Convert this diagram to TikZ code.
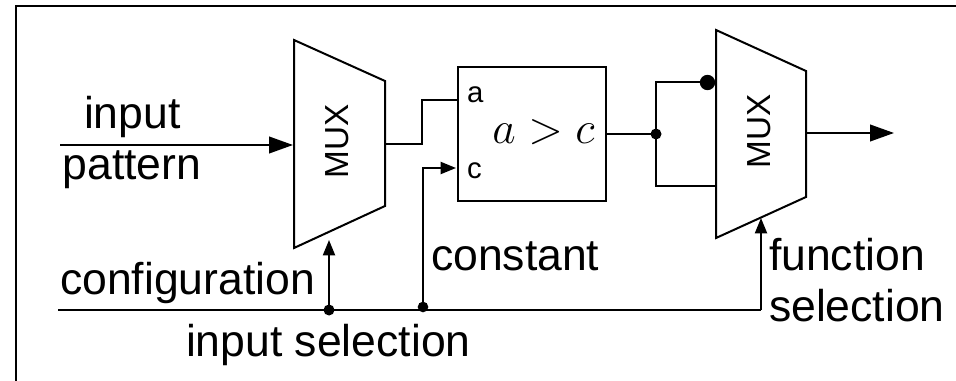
\documentclass[tikz,border=0pt]{standalone}
\usepackage{amsmath,amssymb}
\usepackage{fontspec}
\setmainfont{Liberation Sans}
\usepackage{tikz}
\usetikzlibrary{positioning,arrows.meta}

\tikzset{
  wire/.style={line width=1.5pt},
  sig/.style={anchor=base west, inner sep=0pt, font=\fontsize{33.4}{36}\selectfont},
  port/.style={anchor=base west, inner sep=0pt, font=\fontsize{22}{24}\selectfont},
  muxlabel/.style={rotate=90, inner sep=0pt, font=\fontsize{25}{27}\selectfont},
  junction/.style={circle, fill=black, inner sep=0pt, minimum size=#1},
  bigtip/.style={-{Triangle[length=18pt,width=12.5pt]}},
  smalltip/.style={-{Triangle[length=11.5pt,width=9pt]}},
}

\begin{document}
\begin{tikzpicture}[x=0.75pt, y=-0.75pt, wire]
  \useasboundingbox (0,0) rectangle (956,381);

  % frame, only two sides
  \coordinate (FrameB) at (15.5,381);
  \coordinate (FrameC) at (15.5,6.5);
  \coordinate (FrameR) at (956,6.5);
  \draw (FrameB) -- (FrameC) -- (FrameR);

  % muxes and comparator
  \draw (294,40) coordinate (M1a) -- (385,81) -- (385,206) -- (294,248) -- cycle;
  \draw (716,30) coordinate (M2a) -- (806,71) -- (806,197) -- (716,238) -- cycle;
  \node[muxlabel] (Mux1) at (337.5,141) {MUX};
  \node[muxlabel] (Mux2) at (759,131) {MUX};
  \node[draw, wire, minimum width=111pt, minimum height=100.5pt, inner sep=0pt] (Cmp) at (532,134) {};
  \node[anchor=base, inner sep=0pt] (CmpText) at (543.5,144) {\scalebox{1.37}{\fontsize{24.88}{28}\selectfont $a>c$}};
  \node[port] (PortA) at (466,103) {a};
  \node[port] (PortC) at (466,179) {c};

  % signal ends and junctions
  \coordinate (InL) at (60,145);
  \coordinate (InR) at (293,145);
  \coordinate (Out1) at (385,144);
  \coordinate (Bend) at (422,122);
  \coordinate (A1) at (458,100);
  \coordinate (C1) at (456,168);
  \coordinate (BusL) at (58,310);
  \coordinate (BusR) at (761,310);
  \coordinate (Sel2) at (761,218);
  \coordinate (Sel1) at (329,240);
  \coordinate (Low2) at (716,186);
  \coordinate (Out2) at (806,133);
  \coordinate (OutR) at (894,133);
  \node[junction=8.25pt] (J1) at (329,310) {};
  \node[junction=8pt] (J2) at (423,307) {};
  \node[junction=8.25pt] (J3) at (656,134) {};
  \node[junction=11.5pt] (J4) at (707.5,82.5) {};

  % connectors
  \draw[bigtip] (InL) -- (InR);
  \draw (Out1) -| (Bend) |- (A1);
  \draw (BusL) -- (BusR);
  \draw[smalltip] (J1.center) -- (Sel1);
  \draw[smalltip] (BusR) -- (Sel2);
  \draw[smalltip] (J2.center) |- (C1);
  \draw (Cmp.east |- J3) -- (J3.center);
  \draw (J3.center) |- (J4.center);
  \draw (J3.center) |- (Low2);
  \draw[bigtip] (Out2) -- (OutR);

  % labels
  \node[sig] (LblInput) at (83,128.5) {input};
  \node[sig] (LblPattern) at (61.5,180) {pattern};
  \node[sig] (LblConfig) at (59,294) {configuration};
  \node[sig] (LblInSel) at (185,356.5) {input selection};
  \node[sig] (LblConst) at (430,270.5) {constant};
  \node[sig] (LblFunc) at (768,270.5) {function};
  \node[sig] (LblFnSel) at (768,321) {selection};
\end{tikzpicture}
\end{document}
